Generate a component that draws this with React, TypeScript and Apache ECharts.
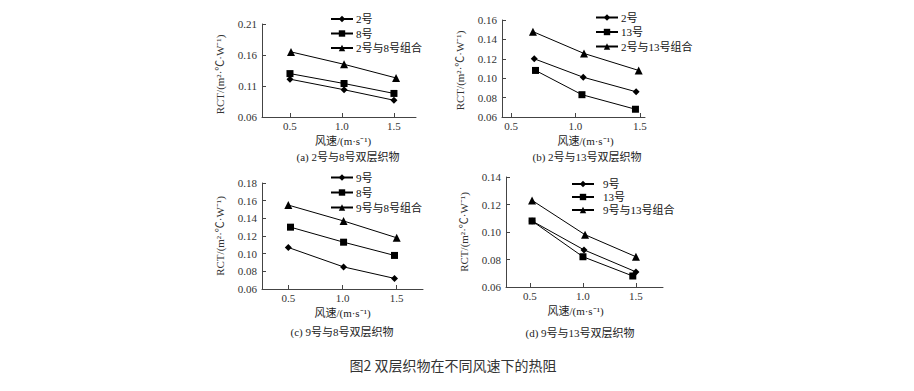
import React, { useEffect, useRef } from "react";
import * as echarts from "echarts";

// Panel (a): 2号 / 8号 / 组合
const aX2 = [0.5, 1.02, 1.5];
const aY2 = [0.121, 0.104, 0.087];
const aX8 = [0.5, 1.02, 1.5];
const aY8 = [0.13, 0.114, 0.098];
const aXc = [0.51, 1.02, 1.52];
const aYc = [0.165, 0.145, 0.123];

// Panel (b): 2号 / 13号 / 组合
const bX2 = [0.68, 1.06, 1.47];
const bY2 = [0.12, 0.101, 0.086];
const bX13 = [0.69, 1.05, 1.465];
const bY13 = [0.108, 0.083, 0.068];
const bXc = [0.67, 1.066, 1.49];
const bYc = [0.148, 0.1255, 0.108];

// Panel (c): 9号 / 8号 / 组合
const cX9 = [0.5, 1.01, 1.48];
const cY9 = [0.107, 0.085, 0.072];
const cX8 = [0.52, 1.01, 1.48];
const cY8 = [0.13, 0.113, 0.098];
const cXc = [0.5, 1.01, 1.5];
const cYc = [0.155, 0.137, 0.118];

// Panel (d): 9号 / 13号 / 组合
const dX9 = [0.52, 1.01, 1.5];
const dY9 = [0.108, 0.087, 0.071];
const dX13 = [0.52, 1.0, 1.47];
const dY13 = [0.108, 0.082, 0.068];
const dXc = [0.52, 1.02, 1.5];
const dYc = [0.123, 0.098, 0.082];

const xTicks = [0.5, 1.0, 1.5];
const aYTicks = [0.06, 0.11, 0.16, 0.21];
const bYTicks = [0.06, 0.08, 0.1, 0.12, 0.14, 0.16];
const cYTicks = [0.06, 0.08, 0.1, 0.12, 0.14, 0.16, 0.18];
const dYTicks = [0.06, 0.08, 0.1, 0.12, 0.14];

const captions = [
  "(a) 2号与8号双层织物",
  "(b) 2号与13号双层织物",
  "(c) 9号与8号双层织物",
  "(d) 9号与13号双层织物",
];
const figTitle = "图2 双层织物在不同风速下的热阻";
const xName = "风速/(m·s⁻¹)";
const yName = "RCT/(m²·℃·W⁻¹)";

const SERIF = "'Liberation Serif', 'Noto Sans CJK SC', serif";

function zip(xs: number[], ys: number[]) {
  return xs.map((x, i) => [x, ys[i]]);
}

export default function App() {
  const ref = useRef<HTMLDivElement>(null);
  useEffect(() => {
    if (!ref.current) return;
    const chart = echarts.init(ref.current, undefined, { renderer: "svg" });

    const grids = [
      { left: 262, top: 24, width: 154, height: 93 },
      { left: 502, top: 20, width: 143, height: 97 },
      { left: 262, top: 183, width: 161, height: 106 },
      { left: 506, top: 177, width: 157, height: 110 },
    ];
    const xRanges = [
      [0.231, 1.712],
      [0.43, 1.539],
      [0.257, 1.743],
      [0.274, 1.755],
    ];
    const yRanges = [
      [0.06, 0.21, aYTicks],
      [0.06, 0.16, bYTicks],
      [0.06, 0.18, cYTicks],
      [0.06, 0.14, dYTicks],
    ];
    const xNamePad = [[0, 0, 0, 8], [0, 0, 0, 24], [0, 0, 0, 0], [0, 18, 0, 0]];
    const yNamePad = [[0, 8, 0, 0], [0, 4, 0, 0], [0, 0, 0, 0], [0, 0, 0, 0]];

    const axisLine = { lineStyle: { color: "#444", width: 1 } };

    const xAxis = grids.map((g, i) => ({
      type: "value",
      gridIndex: i,
      min: xRanges[i][0],
      max: xRanges[i][1],
      splitLine: { show: false },
      axisLine,
      axisTick: { inside: true, length: 4, customValues: xTicks, lineStyle: { color: "#444" } },
      axisLabel: {
        customValues: xTicks,
        formatter: (v: number) => v.toFixed(1),
        fontFamily: SERIF,
        fontSize: 11,
        color: "#333",
        margin: 3,
      },
      name: xName,
      nameLocation: "middle",
      nameGap: 18,
      nameTextStyle: { fontFamily: SERIF, fontSize: 11, color: "#222", padding: xNamePad[i] },
    }));

    const yAxis = grids.map((g, i) => ({
      type: "value",
      gridIndex: i,
      min: yRanges[i][0] as number,
      max: yRanges[i][1] as number,
      splitLine: { show: false },
      axisLine: { show: true, ...axisLine },
      axisTick: {
        show: true,
        inside: true,
        length: 4,
        customValues: yRanges[i][2] as number[],
        lineStyle: { color: "#444" },
      },
      axisLabel: {
        customValues: yRanges[i][2] as number[],
        formatter: (v: number) => v.toFixed(2),
        fontFamily: SERIF,
        fontSize: 11,
        color: "#333",
        margin: 5,
      },
      name: yName,
      nameLocation: "middle",
      nameRotate: 90,
      nameGap: 37,
      nameTextStyle: { fontFamily: SERIF, fontSize: 11, color: "#333", padding: yNamePad[i] },
    }));

    const mk = (name: string, idx: number, xs: number[], ys: number[], symbol: string, size: number) => ({
      type: "line",
      name,
      xAxisIndex: idx,
      yAxisIndex: idx,
      data: zip(xs, ys),
      symbol,
      symbolSize: size,
      showAllSymbol: true,
      lineStyle: { color: "#000", width: 1 },
      itemStyle: { color: "#000" },
      emphasis: { disabled: true },
    });

    const series = [
      mk("2号", 0, aX2, aY2, "diamond", 7),
      mk("8号", 0, aX8, aY8, "rect", 7),
      mk("2号与8号组合", 0, aXc, aYc, "triangle", 8),
      mk("2号", 1, bX2, bY2, "diamond", 7),
      mk("13号", 1, bX13, bY13, "rect", 7),
      mk("2号与13号组合", 1, bXc, bYc, "triangle", 8),
      mk("9号", 2, cX9, cY9, "diamond", 7),
      mk("8号", 2, cX8, cY8, "rect", 7),
      mk("9号与8号组合", 2, cXc, cYc, "triangle", 8),
      mk("9号", 3, dX9, dY9, "diamond", 7),
      mk("13号", 3, dX13, dY13, "rect", 7),
      mk("9号与13号组合", 3, dXc, dYc, "triangle", 8),
    ];

    const legendBase = {
      orient: "vertical",
      itemWidth: 22,
      itemHeight: 8,
      itemGap: 1,
      selectedMode: false,
      padding: 0,
      textStyle: { fontFamily: SERIF, fontSize: 11, color: "#111", padding: [0, 0, 0, -2], lineHeight: 13 },
    };
    const legend = [
      { ...legendBase, left: 330, top: 12.5, itemGap: 1.5, data: ["2号", "8号", "2号与8号组合"] },
      { ...legendBase, left: 595, top: 11, itemGap: 1.5, data: ["2号", "13号", "2号与13号组合"] },
      { ...legendBase, left: 330, top: 171, itemGap: 2, data: ["9号", "8号", "9号与8号组合"] },
      {
        ...legendBase,
        left: 571,
        top: 177.5,
        itemGap: 0,
        textStyle: { ...legendBase.textStyle, padding: [0, 0, 0, 4] },
        data: ["9号", "13号", "9号与13号组合"],
      },
    ];

    const capPos = [
      [348, 157],
      [587, 157],
      [342, 332],
      [580, 333],
    ];
    const graphic = [
      ...captions.map((t, i) => ({
        type: "text",
        x: capPos[i][0],
        y: capPos[i][1],
        style: {
          text: t,
          fontFamily: SERIF,
          fontSize: 11,
          fill: "#222",
          textAlign: "center",
          textVerticalAlign: "middle",
        },
      })),
      {
        type: "text",
        x: 453,
        y: 365,
        style: {
          text: figTitle,
          fontFamily: "'Noto Sans CJK SC', sans-serif",
          fontSize: 14,
          fill: "#333",
          textAlign: "center",
          textVerticalAlign: "middle",
        },
      },
    ];

    chart.setOption({
      animation: false,
      backgroundColor: "#fff",
      grid: grids,
      xAxis,
      yAxis,
      legend,
      series,
      graphic,
    });
    return () => chart.dispose();
  }, []);
  return (
    <div
      ref={ref}
      style={{ position: "absolute", left: 0, top: 0, width: 914, height: 391, background: "#fff" }}
    />
  );
}
